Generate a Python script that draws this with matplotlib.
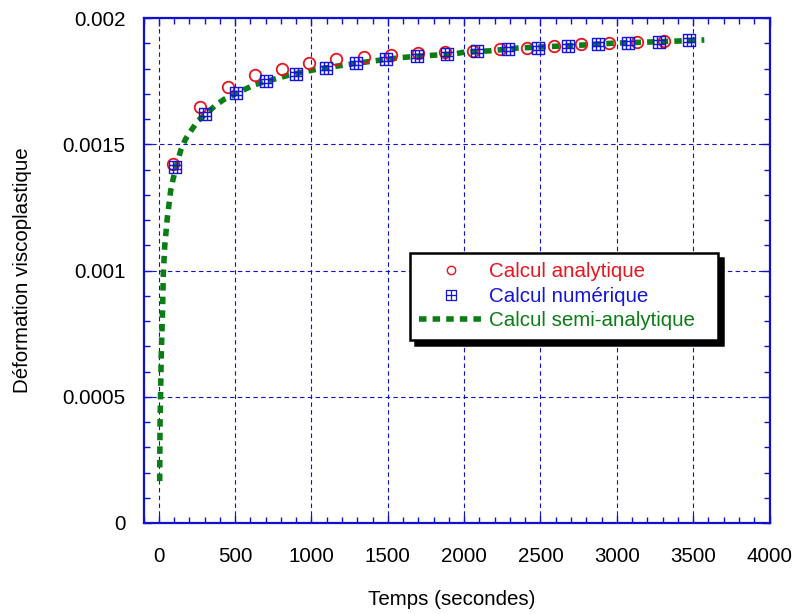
import matplotlib
matplotlib.use("Agg")
import matplotlib.pyplot as plt
from matplotlib.path import Path
from matplotlib.lines import Line2D
from matplotlib.ticker import MultipleLocator

# ---------------- data ----------------
t_analytic = [91, 268, 452, 630, 810, 987, 1164, 1344, 1521, 1697, 1875, 2058,
              2232, 2409, 2589, 2768, 2950, 3130, 3310]
eps_analytic = [0.001422, 0.001649, 0.001726, 0.001773, 0.001799, 0.001821,
                0.001836, 0.001847, 0.001852, 0.001863, 0.001865, 0.001869,
                0.001877, 0.001882, 0.001890, 0.001896, 0.001901, 0.001904,
                0.001909]

t_numeric = [106, 303, 504, 701, 896, 1095, 1294, 1489, 1690, 1885, 2084, 2286,
             2481, 2680, 2877, 3075, 3277, 3476]
eps_numeric = [0.001411, 0.001620, 0.001702, 0.001749, 0.001778, 0.001803,
               0.001821, 0.001836, 0.001848, 0.001857, 0.001869, 0.001876,
               0.001882, 0.001890, 0.001897, 0.001900, 0.001905, 0.001912]

t_semi = [6, 8, 16, 24, 30, 39, 48, 56, 67, 78, 95, 143, 175, 214, 255, 370,
          428, 565, 634, 775, 853, 1009, 1171, 1409, 1582, 1755, 1929, 1994,
          2167, 2351, 2524, 2784, 2968, 3216, 3411, 3573]
eps_semi = [0.000166, 0.00038, 0.000659, 0.000824, 0.000991, 0.001097,
            0.001156, 0.001209, 0.001262, 0.001316, 0.001365, 0.001475,
            0.00152, 0.001556, 0.001592, 0.001653, 0.001678, 0.001718,
            0.001737, 0.001761, 0.001774, 0.001794, 0.00181, 0.00183,
            0.001843, 0.001851, 0.001857, 0.001864, 0.00187, 0.001881,
            0.001886, 0.001893, 0.0019, 0.001905, 0.001909, 0.001913]

labels = ["Calcul analytique", "Calcul numérique", "Calcul semi-analytique"]
x_ticks = [0, 500, 1000, 1500, 2000, 2500, 3000, 3500, 4000]
y_ticks = [0, 0.0005, 0.001, 0.0015, 0.002]
y_ticklabels = ["0", "0.0005", "0.001", "0.0015", "0.002"]

# ---------------- style ----------------
RED = "#e8141e"
BLUE = "#1414dc"
GREEN = "#0a7d14"
AXBLUE = "#1010d0"
FS = 14.8

plt.rcParams["font.family"] = ["Liberation Sans", "DejaVu Sans"]
plt.rcParams["font.size"] = FS


def grid_square(n):
    verts, codes = [], []
    sq = [(-1, -1), (1, -1), (1, 1), (-1, 1), (-1, -1)]
    verts += sq
    codes += [Path.MOVETO, Path.LINETO, Path.LINETO, Path.LINETO, Path.CLOSEPOLY]
    if n == 1:
        pos = [0.0]
    else:
        pos = [-1 / 3, 1 / 3]
    for p in pos:
        verts += [(p, -1), (p, 1)]
        codes += [Path.MOVETO, Path.LINETO]
        verts += [(-1, p), (1, p)]
        codes += [Path.MOVETO, Path.LINETO]
    return Path(verts, codes)


fig = plt.figure(figsize=(7.92, 6.14), dpi=100)
AX_L, AX_R, AX_T, AX_B = 143.5, 769.5, 18, 523
ax = fig.add_axes([AX_L / 792, 1 - AX_B / 614, (AX_R - AX_L) / 792, (AX_B - AX_T) / 614])

ax.plot(t_semi, eps_semi, color=GREEN, lw=4.0, dashes=(1.35, 1.1),
        dash_capstyle="butt", zorder=3)
ax.plot(t_analytic, eps_analytic, ls="none", marker="o", ms=8.3,
        mfc="none", mec=RED, mew=1.3, zorder=4)
ax.plot(t_numeric, eps_numeric, ls="none", marker=grid_square(2), ms=9,
        mfc="none", mec=BLUE, mew=1.0, zorder=5)

ax.set_xlim(-100, 4000)
ax.set_ylim(0, 0.002)
ax.set_xticks(x_ticks)
ax.set_yticks(y_ticks)
ax.set_yticklabels(y_ticklabels)
ax.xaxis.set_minor_locator(MultipleLocator(100))
ax.yaxis.set_minor_locator(MultipleLocator(0.0001))

ax.grid(True, which="major", color=AXBLUE, lw=0.8, ls=(0, (4, 3)))
ax.set_axisbelow(True)

for s in ax.spines.values():
    s.set_color(AXBLUE)
    s.set_linewidth(1.6)

ax.tick_params(which="both", direction="in", top=True, right=True,
               color=AXBLUE, labelcolor="black", labelsize=FS)
ax.tick_params(which="major", length=6, width=1.0)
ax.tick_params(which="minor", length=4.5, width=1.0)
ax.tick_params(axis="x", which="major", pad=17)
ax.tick_params(axis="y", which="major", pad=13)

ax.set_xlabel("Temps (secondes)", fontsize=FS)
ax.set_ylabel("Déformation viscoplastique", fontsize=FS)
ax.xaxis.set_label_coords(0.492, -0.132)
ax.yaxis.set_label_coords(-0.178, 0.5)

handles = [
    Line2D([], [], ls="none", marker="o", ms=6, mfc="none", mec=RED, mew=1.0),
    Line2D([], [], ls="none", marker=grid_square(1), ms=7.5, mfc="none", mec=BLUE, mew=0.9),
    Line2D([], [], color=GREEN, lw=4.0, dashes=(1.35, 1.1), dash_capstyle="butt"),
]
W = AX_R - AX_L
H = AX_B - AX_T
leg_x0 = (410 - AX_L) / W
leg_y1 = (AX_B - 253) / H
leg_w = (718 - 410) / W
leg = ax.legend(handles, labels, loc="upper left",
                bbox_to_anchor=(leg_x0, leg_y1 - 0.3, leg_w, 0.3),
                mode="expand",
                borderaxespad=0, frameon=True, fancybox=False,
                edgecolor="black", framealpha=1, handlelength=3.05,
                handletextpad=0.35, labelspacing=0.27, borderpad=0.45,
                fontsize=FS,
                shadow={"color": "black", "alpha": 1, "ox": 3.6, "oy": -3.6})
leg.get_frame().set_linewidth(1.8)
for txt, c in zip(leg.get_texts(), [RED, BLUE, GREEN]):
    txt.set_color(c)

fig.savefig("out.png", dpi=100)
